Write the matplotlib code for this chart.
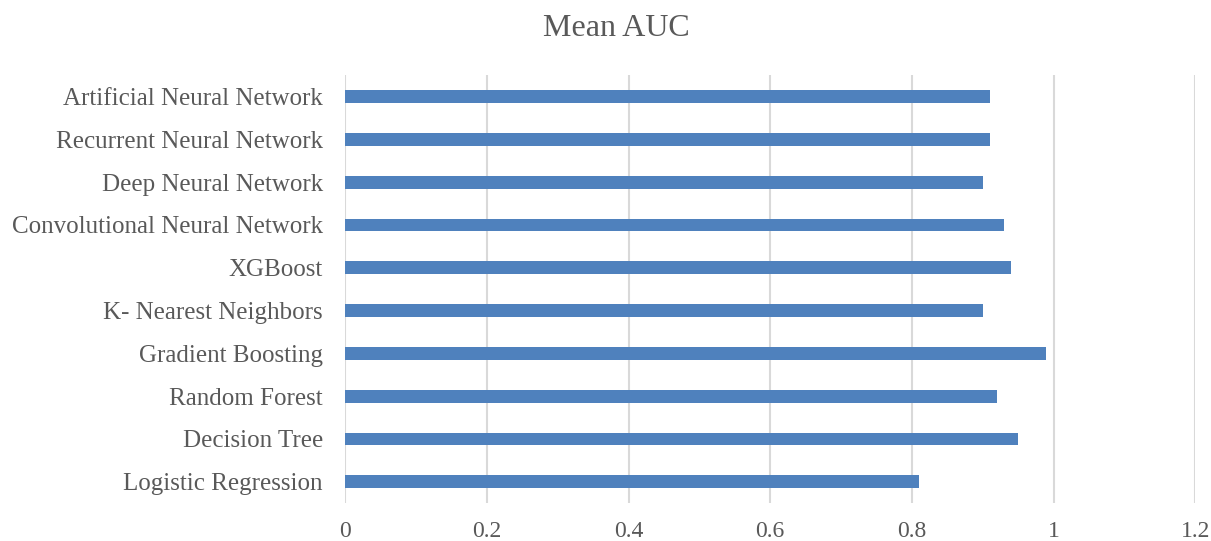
import matplotlib
matplotlib.use("Agg")
import matplotlib.pyplot as plt

models = [
    "Logistic Regression",
    "Decision Tree",
    "Random Forest",
    "Gradient Boosting",
    "K- Nearest Neighbors",
    "XGBoost",
    "Convolutional Neural Network",
    "Deep Neural Network",
    "Recurrent Neural Network",
    "Artificial Neural Network",
]
mean_auc = [0.81, 0.95, 0.92, 0.99, 0.90, 0.94, 0.93, 0.90, 0.91, 0.91]
x_ticks = [0, 0.2, 0.4, 0.6, 0.8, 1.0, 1.2]
x_tick_labels = ["0", "0.2", "0.4", "0.6", "0.8", "1", "1.2"]

text_color = "#595959"
grid_color = "#d9d9d9"
bar_color = "#4f81bd"

plt.rcParams["font.family"] = ["Liberation Serif", "DejaVu Serif"]

fig = plt.figure(figsize=(12.11, 5.41), dpi=100)
ax = fig.add_axes([0.285, 0.07, 0.702, 0.791])

ax.barh(range(len(models)), mean_auc, height=0.3, color=bar_color, zorder=3)

ax.set_xlim(0, 1.2)
ax.set_ylim(-0.5, len(models) - 0.5)
ax.set_xticks(x_ticks)
ax.set_xticklabels(x_tick_labels)
ax.set_yticks(range(len(models)))
ax.set_yticklabels(models)

ax.grid(axis="x", color=grid_color, linewidth=1.5, zorder=0)
for side in ["top", "right", "bottom", "left"]:
    ax.spines[side].set_visible(False)

ax.tick_params(axis="x", length=0, pad=13, labelsize=17, labelcolor=text_color)
ax.tick_params(axis="y", length=0, pad=16, labelsize=18, labelcolor=text_color)

fig.text(0.509, 0.948, "Mean AUC", ha="center", va="center",
         fontsize=23, color=text_color)

fig.savefig("out.png", dpi=100)
